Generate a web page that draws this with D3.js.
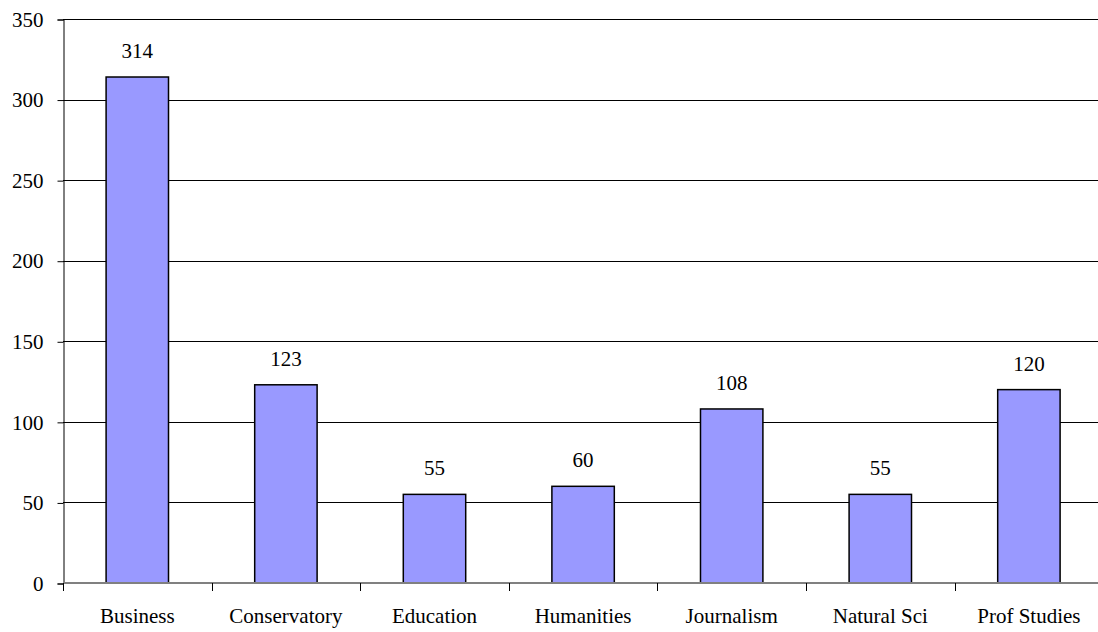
<!DOCTYPE html>
<html>
<head>
<meta charset="utf-8">
<script src="https://cdn.jsdelivr.net/npm/d3@7"></script>
<style>
    body { margin: 0; background: #fff; }
</style>
</head>
<body>
<div id="chart"></div>
<script>
const categories = ["Business", "Conservatory", "Education", "Humanities", "Journalism", "Natural Sci", "Prof Studies"];
const counts = [314, 123, 55, 60, 108, 55, 120];
const yTicks = [0, 50, 100, 150, 200, 250, 300, 350];

const width = 1098, height = 632;
const plotLeft = 63, plotTop = 19, plotBottom = 583;
const bandW = 148.6;
const serif = "'Liberation Serif', 'Times New Roman', Times, 'DejaVu Serif', serif";

const svg = d3.select("#chart").append("svg")
    .attr("width", width)
    .attr("height", height)
    .style("font-family", serif);

const x = d3.scaleBand()
    .domain(categories)
    .range([plotLeft, plotLeft + bandW * categories.length])
    .paddingInner(0.58)
    .paddingOuter(0.29);

const xEdges = d3.scaleLinear()
    .domain([0, categories.length])
    .range([plotLeft, plotLeft + bandW * categories.length]);

const y = d3.scaleLinear()
    .domain([0, 350])
    .range([plotBottom, plotTop]);

// gridlines
svg.append("g")
    .selectAll("line")
    .data(yTicks.filter(d => d > 0))
    .enter().append("line")
    .attr("x1", plotLeft)
    .attr("x2", width)
    .attr("y1", d => Math.round(y(d)) + 0.5)
    .attr("y2", d => Math.round(y(d)) + 0.5)
    .attr("stroke", "#000")
    .attr("stroke-width", 1);

// y axis
const yAxis = svg.append("g")
    .attr("transform", `translate(${plotLeft + 0.5},0.5)`)
    .call(d3.axisLeft(y).tickValues(yTicks).tickSize(6).tickPadding(14));
yAxis.select(".domain").attr("stroke", "#000");
yAxis.selectAll(".tick line").attr("stroke", "#000");
yAxis.selectAll("text")
    .style("font-family", serif)
    .style("font-size", "21px")
    .attr("fill", "#000");

// bars
svg.append("g")
    .selectAll("rect")
    .data(counts)
    .enter().append("rect")
    .attr("x", (d, i) => x(categories[i]))
    .attr("y", d => y(d))
    .attr("width", x.bandwidth())
    .attr("height", d => plotBottom - y(d))
    .attr("fill", "#9999ff")
    .attr("stroke", "#000")
    .attr("stroke-width", 1.5);

// value labels
svg.append("g")
    .selectAll("text")
    .data(counts)
    .enter().append("text")
    .attr("x", (d, i) => x(categories[i]) + x.bandwidth() / 2)
    .attr("y", d => y(d) - 19)
    .attr("text-anchor", "middle")
    .style("font-family", serif)
    .style("font-size", "21px")
    .attr("fill", "#000")
    .text(d => d);

// x axis line and ticks
svg.append("line")
    .attr("x1", plotLeft)
    .attr("x2", width)
    .attr("y1", plotBottom)
    .attr("y2", plotBottom)
    .attr("stroke", "#808080")
    .attr("stroke-width", 2);

svg.append("g")
    .selectAll("line")
    .data(d3.range(categories.length + 1))
    .enter().append("line")
    .attr("x1", d => Math.round(xEdges(d)) + 0.5)
    .attr("x2", d => Math.round(xEdges(d)) + 0.5)
    .attr("y1", plotBottom)
    .attr("y2", plotBottom + 8)
    .attr("stroke", "#000")
    .attr("stroke-width", 1);

// category labels
svg.append("g")
    .selectAll("text")
    .data(categories)
    .enter().append("text")
    .attr("x", d => x(d) + x.bandwidth() / 2)
    .attr("y", 623)
    .attr("text-anchor", "middle")
    .style("font-family", serif)
    .style("font-size", "21px")
    .attr("fill", "#000")
    .text(d => d);
</script>
</body>
</html>
